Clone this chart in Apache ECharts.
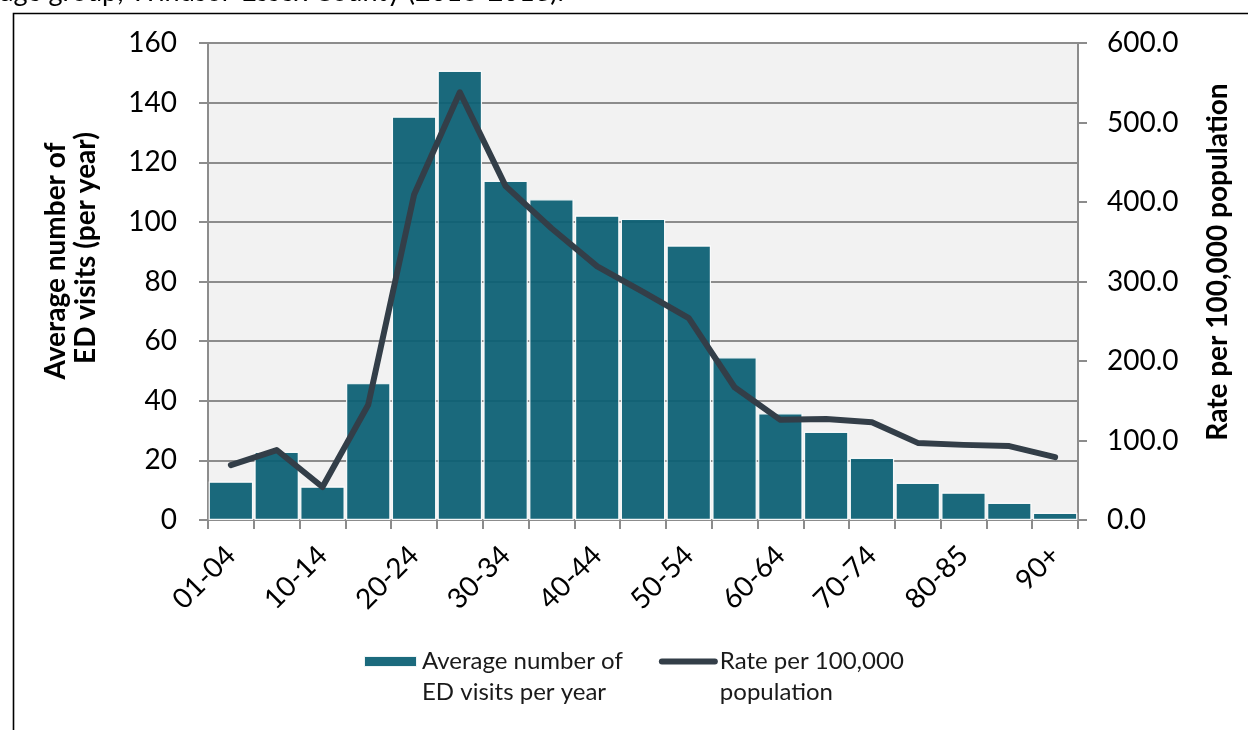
<!DOCTYPE html>
<html>
<head>
<meta charset="utf-8">
<script src="https://cdn.jsdelivr.net/npm/echarts@6/dist/echarts.min.js"></script>
<style>
html,body{margin:0;padding:0;background:#fff;}
#c{width:1248px;height:730px;}
</style>
</head>
<body>
<div id="c"></div>
<script>
const categories = ["01-04","05-09","10-14","15-19","20-24","25-29","30-34","35-39","40-44","45-49","50-54","55-59","60-64","65-69","70-74","75-79","80-85","85-89","90+"];
const visits = [12.9,22.9,11.2,45.9,135.3,150.7,113.8,107.6,102.1,101.0,92.1,54.6,35.8,29.6,20.9,12.5,9.2,5.8,2.4];
const rate = [69,88,41.5,145,409,538,420,367,319,287,254,167,126,127,123,97,94.5,93,79];
const leftTicks = {min:0,max:160,interval:20};
const rightTicks = {min:0,max:600,interval:100};
const barName = "Average number of\nED visits per year";
const lineName = "Rate per 100,000\npopulation";
const titleText = "age group, Windsor-Essex County (2016-2018).";
const leftTitle = ["Average number of","ED visits (per year)"];
const rightTitle = "Rate per 100,000 population";

const FONT = "Lato, 'Open Sans', sans-serif";
const axisGray = "#8c8c8c";
const lineColor = "#333e48";
const chart = echarts.init(document.getElementById('c'));
chart.setOption({
  animation:false,
  textStyle:{fontFamily:FONT},
  grid:{left:208,right:170,top:43,bottom:210,show:true,backgroundColor:'#f2f2f2',borderWidth:0},
  legend:{
    top:615, left:363, itemGap:36, itemWidth:53, itemHeight:11, padding:0,
    formatter: n => ' \n' + n,
    textStyle:{fontFamily:FONT,fontSize:24,color:'#1a1a1a',lineHeight:31},
    data:[
      {name:barName,icon:'rect'},
      {name:lineName,itemStyle:{color:'rgba(0,0,0,0)',borderWidth:0},lineStyle:{color:lineColor,width:6,cap:'round'}}
    ]
  },
  xAxis:{
    type:'category', data:categories,
    axisLine:{lineStyle:{color:axisGray,width:2}},
    axisTick:{show:true,alignWithLabel:false,interval:0,length:9,lineStyle:{color:axisGray,width:2}},
    axisLabel:{interval:1,rotate:45,fontSize:28,color:'#000',margin:31,fontFamily:FONT}
  },
  yAxis:[{
    type:'value', min:leftTicks.min, max:leftTicks.max, interval:leftTicks.interval,
    axisLine:{show:true,lineStyle:{color:axisGray,width:2}},
    axisTick:{show:true,length:9,lineStyle:{color:axisGray,width:2}},
    axisLabel:{fontSize:28,color:'#000',margin:31,fontFamily:FONT},
    splitLine:{show:true,lineStyle:{color:axisGray,width:2}}
  },{
    type:'value', min:rightTicks.min, max:rightTicks.max, interval:rightTicks.interval,
    position:'right',
    axisLine:{show:true,lineStyle:{color:axisGray,width:2}},
    axisTick:{show:true,length:9,lineStyle:{color:axisGray,width:2}},
    axisLabel:{fontSize:28,color:'#000',margin:29,fontFamily:FONT,formatter:v=>v.toFixed(1)},
    splitLine:{show:false}
  }],
  series:[{
    name:barName, type:'bar', data:visits, yAxisIndex:0,
    barCategoryGap:'3%',
    itemStyle:{color:'#0a5f73',opacity:0.93,borderColor:'#ffffff',borderWidth:1.2}
  },{
    name:lineName, type:'line', data:rate, yAxisIndex:1,
    symbol:'none', z:5,
    lineStyle:{color:lineColor,width:6,cap:'round',join:'round'},
    itemStyle:{color:lineColor}
  }],
  graphic:[
    {type:'rect',left:11,top:11,shape:{width:1300,height:800},style:{fill:'none',stroke:'#000',lineWidth:1.6},silent:true},
    {type:'text',x:0,y:6,style:{text:titleText,font:"27px "+FONT,fill:'#000',verticalAlign:'bottom',align:'left'}},
    {type:'text',x:56,y:261,rotation:Math.PI/2,style:{text:leftTitle[0],font:"bold 28px "+FONT,fill:'#000',align:'center',verticalAlign:'middle'}},
    {type:'text',x:86,y:248,rotation:Math.PI/2,style:{text:leftTitle[1],font:"bold 28px "+FONT,fill:'#000',align:'center',verticalAlign:'middle'}},
    {type:'text',x:1218,y:262,rotation:Math.PI/2,style:{text:rightTitle,font:"bold 28px "+FONT,fill:'#000',align:'center',verticalAlign:'middle'}}
  ]
});
</script>
</body>
</html>
